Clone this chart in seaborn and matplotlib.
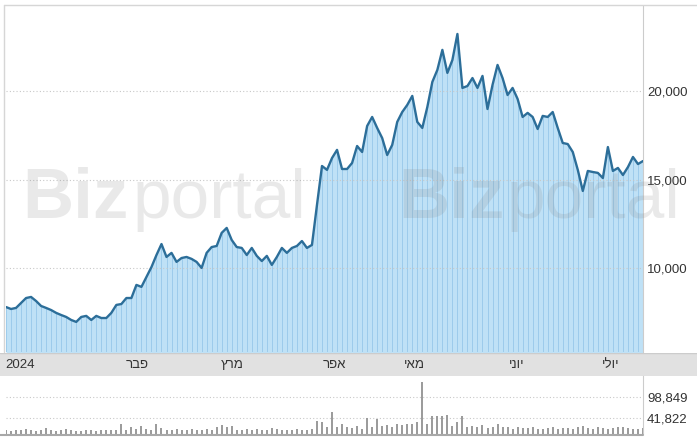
import numpy as np
import pandas as pd
import matplotlib
matplotlib.use("Agg")
import matplotlib.pyplot as plt
from matplotlib.lines import Line2D
import seaborn as sns

# closing price, one value per trading day (Jan - Jul 2024)
price = [7820, 7710, 7770, 8050, 8330, 8390, 8160, 7880, 7770, 7650,
         7490, 7370, 7260, 7090, 6980, 7260, 7320, 7090, 7320, 7200,
         7200, 7490, 7940, 7990, 8330, 8330, 9070, 8960, 9520, 10080,
         10760, 11380, 10650, 10880, 10370, 10590, 10650, 10540, 10370, 10030,
         10880, 11210, 11270, 12010, 12290, 11610, 11210, 11160, 10760, 11160,
         10710, 10420, 10710, 10200, 10650, 11160, 10880, 11160, 11270, 11550,
         11160, 11330, 13590, 15790, 15570, 16240, 16700, 15620, 15620, 15960,
         16920, 16580, 18050, 18560, 17940, 17370, 16410, 16980, 18280, 18840,
         19240, 19750, 18280, 17940, 19120, 20540, 21220, 22350, 21050, 21780,
         23250, 20200, 20310, 20760, 20200, 20880, 19010, 20370, 21500, 20760,
         19800, 20200, 19580, 18560, 18790, 18560, 17880, 18620, 18560, 18840,
         17940, 17090, 17030, 16580, 15570, 14380, 15510, 15450, 15400, 15110,
         16860, 15510, 15680, 15280, 15730, 16300, 15900, 16070]

# daily volume, thousands
volume = [10, 9, 11, 12, 14, 11, 9, 12, 15, 10, 9, 11, 13, 10, 8, 9, 11, 10, 9, 10, 11, 12, 10,
          27, 12, 20, 13, 22, 14, 12, 27,
          16, 12, 11, 13, 12, 11, 14, 12, 11, 13, 12,
          20, 24, 18, 22,
          12, 11, 13, 12, 14, 11, 12, 16, 13, 12, 11, 12, 13, 11, 12, 14,
          36, 31, 18, 58, 20, 27, 18,
          15, 22, 14, 44, 18, 40, 22, 25, 20, 27, 24, 26, 28, 31,
          140,
          27, 49, 47, 48, 50, 22, 31, 49,
          18, 22, 20, 25, 16, 20, 27, 18, 20,
          14, 18, 15, 16, 20, 14, 13, 15, 18, 14, 16, 15, 13, 18, 22, 16, 14, 18, 15, 13,
          16, 20, 18, 15, 14, 13, 16]

month_labels = ["2024", "פבר", "מרץ", "אפר", "מאי", "יוני", "יולי"]
month_pos = [0, 26.1, 45.1, 65.4, 81.5, 101.9, 120.6]
price_ticks = [10000, 15000, 20000]
vol_ticks = [41822, 98849]

sns.set_style("white")
plt.rcParams['font.family'] = ['Liberation Sans', 'DejaVu Sans']

W, H = 697, 440
fig = plt.figure(figsize=(W / 100, H / 100), dpi=100)


def box(l, t, r, b):
    return [l / W, 1 - b / H, (r - l) / W, (b - t) / H]


df = pd.DataFrame({'day': np.arange(len(price)), 'price': price,
                   'volume': np.array(volume) * 1000})
n = len(price)

# watermark (behind the labels)
for bx, px in [(22, 133), (398, 507)]:
    fig.text(bx / W, 1 - 218 / H, "Biz", fontsize=51, fontweight='bold',
             family=['Liberation Sans', 'DejaVu Sans'], color='#808080', alpha=0.17,
             ha='left', va='baseline', zorder=0)
    fig.text(px / W, 1 - 218 / H, "portal", fontsize=50, fontweight='normal',
             family=['Liberation Sans', 'DejaVu Sans'], color='#808080', alpha=0.17,
             ha='left', va='baseline', zorder=0)

# price panel
ax = fig.add_axes(box(6, 6, 643, 352))
ax.fill_between(df['day'], 0, df['price'], color='#bfe1f6', lw=0, zorder=1)
ax.vlines(df['day'], 0, df['price'], color='#9ccbeb', lw=0.7, zorder=2)
sns.lineplot(data=df, x='day', y='price', ax=ax, color='#2c6e99', lw=1.7, zorder=4)
ax.set_xlim(0, n - 1)
ax.set_ylim(5280, 24830)
ax.set_yticks(price_ticks)
ax.set_yticklabels([f"{t:,}" for t in price_ticks])
ax.yaxis.tick_right()
ax.tick_params(axis='y', length=0, pad=3, labelsize=9.5, labelcolor='#333333')
ax.set_xticks([])
ax.set_xlabel("")
ax.set_ylabel("")
for t in price_ticks:
    ax.axhline(t, color='#c8c8c8', lw=0.8, ls=(0, (1, 2)), zorder=3)
for s in ['top', 'left', 'bottom']:
    ax.spines[s].set_visible(False)
ax.spines['right'].set_color('#cccccc')
ax.patch.set_alpha(0)

# month band
band = fig.add_axes(box(0, 353, W, 376))
band.set_facecolor('#e1e1e1')
band.set_xlim(-6 / 637 * (n - 1), (W - 6) / 637 * (n - 1))
band.set_ylim(0, 1)
band.set_xticks([])
band.set_yticks([])
for s in band.spines.values():
    s.set_visible(False)
band.axhline(1, color='#cccccc', lw=1.0)
for lab, pos in zip(month_labels, month_pos):
    if lab.isdigit():
        band.text(pos - 0.2, 0.5, lab, ha='left', va='center', fontsize=9.5, color='#333333')
    else:
        band.text(pos, 0.5, lab[::-1], ha='center', va='center', fontsize=9.5, color='#333333')

# volume panel
vax = fig.add_axes(box(6, 376, 643, 434))
vax.vlines(df['day'], 0, df['volume'], color='#9a9a9a', lw=1.4)
vax.set_xlim(0, n - 1)
vax.set_ylim(0, 155000)
vax.set_yticks(vol_ticks)
vax.set_yticklabels([f"{t:,}" for t in vol_ticks])
vax.yaxis.tick_right()
vax.tick_params(axis='y', length=0, pad=3, labelsize=9.5, labelcolor='#333333')
vax.set_xticks([])
for t in vol_ticks:
    vax.axhline(t, color='#c8c8c8', lw=0.8, ls=(0, (1, 2)), zorder=0)
for s in ['top', 'left', 'bottom']:
    vax.spines[s].set_visible(False)
vax.spines['right'].set_color('#cccccc')

# frame lines
fig.add_artist(Line2D([4 / W, 1], [1 - 5 / H, 1 - 5 / H], color='#d6d6d6', lw=1))
fig.add_artist(Line2D([4 / W, 4 / W], [1 - 5 / H, 1 - 352 / H], color='#d6d6d6', lw=1))
fig.add_artist(Line2D([0, 643 / W], [1 - 435 / H, 1 - 435 / H], color='#a8a8a8', lw=1.5))

fig.savefig("out.png", dpi=100)
